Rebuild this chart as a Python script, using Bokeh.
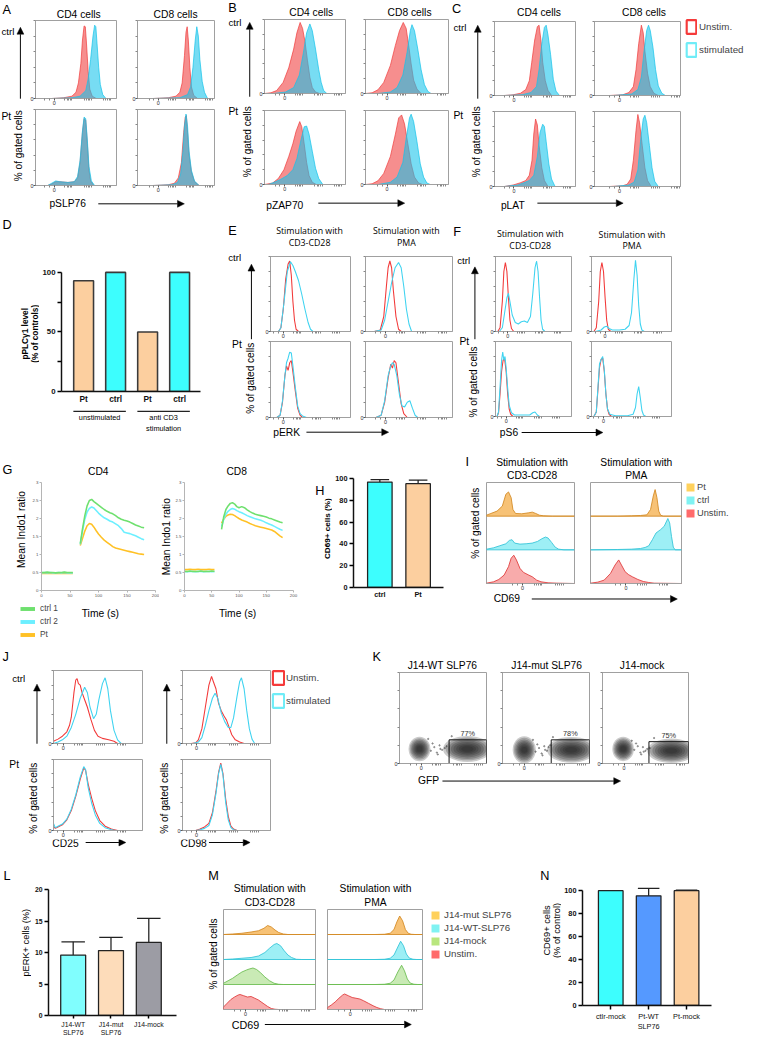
from bokeh.plotting import figure
from bokeh.layouts import row, column
from bokeh.models import (Range1d, Label, Arrow, NormalHead, FixedTicker, Legend, LegendItem,
                          Whisker, TeeHead, ColumnDataSource, Spacer)
from bokeh.embed import file_html
from bokeh.resources import INLINE
from bokeh.core.properties import value

# ============================ DATA ============================
# Flow histograms: (channel position in % of axis, % of max)
A_CD4_ctrl_unstim = [(20,0),(35,1),(45,3),(50,8),(53,20),(56,45),(58,75),(60,93),(61.5,92),(63,70),(65,35),(67,12),(70,3),(75,0)]
A_CD4_ctrl_stim = [(20,0),(45,1),(55,3),(62,10),(65,25),(68,50),(71,80),(73,94),(74.5,92),(76,70),(78,40),(80,18),(83,5),(87,0)]
A_CD8_ctrl_unstim = [(20,0),(40,1),(50,3),(55,8),(58,20),(61,55),(63,85),(64.5,92),(66,75),(68,40),(70,15),(73,4),(78,0)]
A_CD8_ctrl_stim = [(20,0),(55,1),(65,5),(69,15),(72,40),(75,75),(77,92),(79,80),(81,50),(84,22),(87,8),(91,0)]
A_CD4_Pt_unstim = [(15,0),(20,2),(25,5),(30,5),(40,4),(48,5),(52,10),(55,30),(58,70),(60,88),(62,86),(64,55),(66,20),(68,6),(72,0)]
A_CD4_Pt_stim = [(15,0),(20,3),(25,6),(30,5),(40,4),(48,5),(52,12),(55,33),(58,72),(60,90),(62,88),(64,60),(66,25),(69,6),(73,0)]
A_CD8_Pt_unstim = [(20,0),(40,1),(48,3),(53,10),(57,30),(60,70),(62,90),(63.5,92),(65,70),(67,40),(70,18),(74,5),(80,0)]
A_CD8_Pt_stim = [(20,0),(45,1),(52,4),(56,15),(59,45),(61,78),(63,94),(65,78),(67,45),(70,20),(74,6),(80,0)]

B_CD4_ctrl_unstim = [(0,0),(8,1),(15,4),(23,15),(30,35),(36,60),(40,82),(44,96),(47,88),(50,70),(53,45),(56,22),(59,8),(63,2),(68,0)]
B_CD4_ctrl_stim = [(11,0),(26,2),(36,8),(43,25),(48,55),(52,82),(56,94),(59,85),(63,60),(67,32),(70,15),(73,4),(77,0)]
B_CD8_ctrl_unstim = [(0,0),(8,1),(15,5),(22,15),(30,38),(36,65),(41,85),(45.5,96),(49,88),(52,65),(55,40),(58,18),(62,6),(67,0)]
B_CD8_ctrl_stim = [(15,0),(30,2),(38,8),(45,25),(50,55),(54,85),(56,93),(59,85),(63,60),(67,32),(71,12),(75,3),(79,0)]
B_CD4_Pt_unstim = [(0,0),(10,2),(17,8),(24,20),(30,38),(35,55),(39,72),(43.5,85),(46,78),(49,55),(52,30),(55,12),(59,3),(64,0)]
B_CD4_Pt_stim = [(5,0),(12,3),(20,7),(28,12),(35,20),(40,35),(45,60),(49,78),(52,79),(55,68),(59,45),(63,22),(67,8),(72,0)]
B_CD8_Pt_unstim = [(0,0),(8,1),(15,5),(22,15),(30,38),(36,68),(40,90),(43.5,94),(47,82),(51,55),(55,28),(59,10),(64,2),(69,0)]
B_CD8_Pt_stim = [(15,0),(30,3),(38,10),(45,30),(49,62),(53,90),(55,95),(58,85),(62,58),(66,28),(70,10),(74,2),(78,0)]

C_CD4_ctrl_unstim = [(12,0),(23,1),(32,3),(38.6,8),(43,20),(46,45),(49.6,75),(52.9,93),(55,95),(57.3,75),(59.5,45),(62.7,20),(66,7),(70.4,0)]
C_CD4_ctrl_stim = [(12,0),(34,1),(45,4),(51.8,12),(55,35),(58.4,70),(61.6,92),(63.8,95),(66,82),(69.3,55),(72.6,22),(75.9,6),(80.3,0)]
C_CD8_ctrl_unstim = [(17.3,0),(32.8,1),(40,4),(45.2,12),(48.3,35),(51.4,70),(54.5,95),(56.6,85),(58.6,60),(61.7,30),(64.8,12),(69,3),(74.2,0)]
C_CD8_ctrl_stim = [(22.5,0),(43.1,2),(50.4,8),(54.5,25),(57.6,60),(60.7,88),(62.8,95),(64.8,88),(68,65),(71,35),(74.2,13),(78.3,3),(82.4,0)]
C_CD4_Pt_unstim = [(12,0),(23,2),(32,5),(38.6,8),(43,15),(46.3,35),(48.5,70),(50.7,90),(52.9,82),(55,55),(58.4,25),(61.6,8),(66,0)]
C_CD4_Pt_stim = [(12,0),(28.8,2),(36.4,5),(43,8),(48.5,15),(52.9,40),(56.2,72),(59.5,83),(61.6,80),(63.8,60),(67.1,30),(70.4,10),(74.8,0)]
C_CD8_Pt_unstim = [(17.3,0),(32.8,1),(38,3),(42.1,10),(45.2,35),(48.3,75),(50.4,96),(52.4,85),(55.5,55),(58.6,25),(61.7,8),(65.9,0)]
C_CD8_Pt_stim = [(22.5,0),(40,2),(46.2,6),(50.4,22),(53.5,60),(56.6,90),(58.6,95),(60.7,85),(63.8,55),(66.9,25),(70,7),(74.2,0)]

E_CD3_ctrl_unstim = [(10,0),(13,5),(16,30),(19,70),(22,90),(24,94),(26,75),(28,40),(30,15),(32,3),(35,0)]
E_CD3_ctrl_stim = [(10,0),(13,5),(17,40),(21,80),(25,93),(28,88),(31,80),(35,68),(39,50),(43,30),(47,12),(50,3),(53,0)]
E_PMA_ctrl_unstim = [(10,0),(17,2),(21,20),(24,60),(26,85),(28,94),(30,85),(32,55),(35,20),(38,3),(41,0)]
E_PMA_ctrl_stim = [(10,0),(18,2),(22,15),(26,40),(30,65),(34,85),(38,92),(41,85),(44,60),(47,30),(50,10),(53,0)]
E_CD3_Pt_unstim = [(8,0),(12,3),(15,20),(18,55),(20,68),(22,62),(24,72),(26,75),(28,60),(31,35),(34,12),(37,3),(40,0)]
E_CD3_Pt_stim = [(8,0),(12,3),(15,22),(18,55),(20,72),(22,78),(24,86),(26,85),(28,68),(31,40),(34,15),(37,5),(40,2),(45,0)]
E_PMA_Pt_unstim = [(12,0),(18,3),(22,20),(26,52),(29,70),(31,65),(33,75),(35,72),(38,45),(41,18),(44,5),(48,0)]
E_PMA_Pt_stim = [(12,0),(18,3),(22,22),(26,55),(29,68),(31,72),(33,70),(36,55),(39,30),(42,15),(45,14),(48,20),(51,22),(54,12),(57,3),(60,0)]

F_CD3_ctrl_unstim = [(3,0),(6,5),(9,40),(11,80),(13,92),(15,80),(17,45),(19,15),(21,4),(24,0)]
F_CD3_ctrl_stim = [(5,0),(9,5),(12,25),(15,45),(17,51),(19,40),(22,22),(26,12),(30,10),(34,13),(38,14),(42,12),(46,20),(49,50),(52,85),(54,94),(56,80),(58,45),(60,15),(62,3),(65,0)]
F_PMA_ctrl_unstim = [(3,0),(6,5),(9,40),(11,80),(13,92),(15,80),(17,45),(19,15),(21,3),(24,0)]
F_PMA_ctrl_stim = [(5,0),(12,2),(16,6),(19,7),(22,4),(26,2),(35,2),(42,3),(47,8),(50,25),(53,70),(55,95),(57,75),(59,35),(61,10),(63,2),(66,0)]
F_CD3_Pt_unstim = [(2,0),(4,5),(6,30),(8,60),(10,75),(12,77),(14,60),(16,30),(18,10),(20,3),(23,0)]
F_CD3_Pt_stim = [(2,0),(4,6),(6,40),(8,75),(9.5,86),(11,75),(12.5,80),(14,65),(16,38),(18,15),(21,5),(25,2),(35,2),(45,2),(49,5),(52,6),(55,2),(58,0)]
F_PMA_Pt_unstim = [(3,0),(6,6),(8,35),(10,65),(12,76),(14,78),(16,60),(18,30),(20,10),(22,3),(25,0)]
F_PMA_Pt_stim = [(3,0),(6,6),(8,38),(10,70),(12,76),(14,80),(16,62),(18,30),(20,10),(23,3),(30,1),(45,1),(52,3),(55,12),(57,30),(59,40),(61,25),(63,8),(65,2),(68,0)]

G_time_base = [0, 5, 10, 15, 20, 25, 30, 35, 40, 45, 50, 55]
G_time_resp = [68, 72, 76, 80, 84, 88, 92, 96, 100, 105, 110, 115, 120, 125, 130, 135, 140, 145, 150, 155, 160, 165, 170, 175, 180]
G_CD4_ctrl1_base = [0.50, 0.50, 0.51, 0.50, 0.50, 0.49, 0.50, 0.50, 0.51, 0.50, 0.50, 0.50]
G_CD4_ctrl1_resp = [1.30, 1.72, 2.08, 2.35, 2.50, 2.53, 2.47, 2.42, 2.37, 2.31, 2.25, 2.20, 2.16, 2.13, 2.08, 2.02, 1.98, 1.95, 1.93, 1.90, 1.86, 1.82, 1.79, 1.76, 1.74]
G_CD4_ctrl2_base = [0.49, 0.50, 0.49, 0.50, 0.49, 0.49, 0.50, 0.49, 0.50, 0.49, 0.49, 0.49]
G_CD4_ctrl2_resp = [1.28, 1.65, 1.98, 2.18, 2.28, 2.32, 2.29, 2.22, 2.15, 2.08, 2.02, 1.98, 1.93, 1.90, 1.85, 1.80, 1.72, 1.62, 1.60, 1.58, 1.55, 1.52, 1.48, 1.44, 1.41]
G_CD4_Pt_base = [0.47, 0.48, 0.47, 0.48, 0.47, 0.47, 0.48, 0.47, 0.47, 0.48, 0.47, 0.47]
G_CD4_Pt_resp = [1.25, 1.45, 1.65, 1.80, 1.86, 1.84, 1.76, 1.66, 1.57, 1.48, 1.40, 1.34, 1.28, 1.22, 1.18, 1.16, 1.14, 1.12, 1.10, 1.08, 1.06, 1.04, 1.02, 1.01, 1.00]
G_CD8_ctrl1_base = [0.53, 0.53, 0.54, 0.53, 0.53, 0.53, 0.54, 0.53, 0.53, 0.53, 0.54, 0.53]
G_CD8_ctrl1_resp = [1.70, 2.05, 2.25, 2.35, 2.42, 2.44, 2.40, 2.33, 2.30, 2.33, 2.30, 2.24, 2.19, 2.15, 2.12, 2.10, 2.08, 2.06, 2.04, 2.01, 1.99, 1.96, 1.93, 1.90, 1.88]
G_CD8_ctrl2_base = [0.53, 0.52, 0.53, 0.53, 0.52, 0.53, 0.53, 0.52, 0.53, 0.53, 0.52, 0.53]
G_CD8_ctrl2_resp = [1.78, 1.98, 2.12, 2.20, 2.25, 2.28, 2.26, 2.22, 2.19, 2.16, 2.12, 2.08, 2.05, 2.02, 1.99, 1.97, 1.95, 1.92, 1.88, 1.85, 1.82, 1.78, 1.74, 1.70, 1.67]
G_CD8_Pt_base = [0.58, 0.58, 0.59, 0.58, 0.58, 0.59, 0.58, 0.58, 0.58, 0.59, 0.58, 0.58]
G_CD8_Pt_resp = [1.87, 1.98, 2.06, 2.10, 2.12, 2.11, 2.08, 2.04, 2.00, 1.96, 1.93, 1.90, 1.86, 1.83, 1.80, 1.78, 1.76, 1.74, 1.72, 1.70, 1.68, 1.64, 1.58, 1.52, 1.47]
G_series = ["ctrl 1", "ctrl 2", "Pt"]

D_labels = ["Pt", "ctrl", "Pt", "ctrl"]
D_values = [93, 100, 50, 100]
D_groups = ["unstimulated", "anti CD3\nstimulation"]

H_labels = ["ctrl", "Pt"]
H_values = [96.7, 95.2]
H_low = [94.5, 92.0]
H_high = [99.0, 98.5]

I_CD3_Pt = [(0,3),(5,8),(12,15),(18,30),(22,65),(25,72),(28,55),(30,20),(33,8),(40,7),(48,10),(52,12),(56,8),(60,3),(65,1),(75,0),(100,0)]
I_CD3_ctrl = [(0,2),(8,6),(15,12),(22,18),(26,28),(29,30),(32,20),(38,17),(45,18),(52,20),(58,25),(63,33),(67,38),(70,35),(74,22),(78,8),(82,2),(88,0),(100,0)]
I_CD3_unstim = [(0,1),(8,5),(14,12),(20,25),(25,50),(28,75),(31,84),(34,70),(38,45),(42,33),(48,25),(52,20),(57,10),(62,5),(70,2),(80,1),(100,0)]
I_PMA_Pt = [(0,0),(30,0),(45,1),(55,2),(62,4),(66,20),(69,60),(71,79),(73,55),(75,15),(77,3),(80,0),(100,0)]
I_PMA_ctrl = [(0,0),(30,1),(45,2),(55,4),(60,7),(64,12),(68,30),(72,50),(77,60),(81,70),(85,93),(87,80),(89,40),(91,8),(93,0),(100,0)]
I_PMA_unstim = [(0,1),(8,4),(15,10),(22,30),(27,55),(31,70),(34,55),(38,35),(42,26),(46,20),(52,12),(58,6),(64,3),(70,1),(100,0)]
I_legend = ["Pt", "ctrl", "Unstim."]

J_CD25_ctrl_unstim = [(0,3),(5,6),(10,10),(15,16),(18,25),(20,36),(23,70),(25,87),(26.5,89),(28,82),(30,80),(32,70),(35,60),(38,50),(42,33),(46,18),(50,10),(55,7),(62,5),(68,3),(72,0)]
J_CD25_ctrl_stim = [(0,0),(5,2),(10,5),(15,10),(20,22),(25,40),(30,62),(35,77),(38,70),(41,50),(45,34),(48,40),(51,60),(55,82),(58,90),(61,75),(64,45),(68,18),(72,5),(76,0)]
J_CD98_ctrl_unstim = [(10,0),(15,1),(18,5),(22,20),(26,50),(30,80),(33,92),(35,85),(38,75),(41,55),(44,45),(47,38),(50,32),(53,22),(56,12),(60,5),(65,2),(70,0)]
J_CD98_ctrl_stim = [(12,0),(18,2),(22,8),(26,25),(30,45),(34,62),(37,69),(40,62),(44,42),(48,30),(52,22),(55,22),(58,35),(62,65),(65,85),(67,90),(70,75),(73,45),(76,20),(79,6),(82,0)]
J_CD25_Pt_unstim = [(0,6),(2,3),(5,5),(10,8),(15,15),(20,28),(25,48),(30,72),(34,88),(36,85),(39,65),(43,45),(47,28),(52,14),(58,6),(65,2),(72,0)]
J_CD25_Pt_stim = [(0,10),(2,4),(5,6),(10,9),(15,16),(20,30),(25,50),(30,75),(34,90),(36,86),(39,60),(43,38),(47,22),(52,10),(58,4),(65,1),(70,0)]
J_CD98_Pt_unstim = [(15,0),(20,2),(25,5),(30,10),(34,25),(38,55),(41,82),(43.5,95),(46,80),(49,45),(52,20),(55,6),(58,2),(62,0)]
J_CD98_Pt_stim = [(15,0),(20,1),(25,3),(30,7),(34,22),(38,52),(41,80),(43.5,93),(46,78),(49,40),(52,15),(55,4),(58,1),(62,0)]

K_titles = ["J14-WT SLP76", "J14-mut SLP76", "J14-mock"]
K_gate_pct = ["77%", "78%", "75%"]
K_gate_x = [57, 56, 54]
K_gate_y = [26, 26, 24]
K_neg_x = [23, 25, 24]
K_neg_y = [16, 15, 16]
K_neg_w = [18, 19, 18]
K_neg_h = [18, 20, 18]
K_pos_x = [78, 79, 80]
K_pos_y = [16, 15, 14]
K_pos_w = [40, 40, 40]
K_pos_h = [19, 19, 18]
K_events_x = [[36, 40, 43, 46, 49, 52, 38, 44, 54, 47, 33, 60],
              [38, 42, 45, 48, 51, 53, 40, 46, 55, 49, 35, 58],
              [37, 41, 44, 47, 50, 52, 39, 45, 55, 48, 34, 60]]
K_events_y = [[14, 18, 12, 20, 15, 17, 22, 10, 19, 16, 27, 30],
              [13, 17, 11, 19, 14, 18, 21, 9, 20, 15, 26, 29],
              [15, 19, 12, 18, 14, 16, 22, 10, 17, 13, 25, 28]]

L_labels = ["J14-WT\nSLP76", "J14-mut\nSLP76", "J14-mock"]
L_values = [9.6, 10.3, 11.6]
L_low = [7.6, 8.2, 7.8]
L_high = [11.7, 12.4, 15.4]

M_CD3_mut = [(0,0),(10,2),(20,5),(30,10),(38,15),(44,25),(48,36),(52,30),(56,18),(60,8),(65,2),(70,0),(100,0)]
M_CD3_WT = [(0,0),(10,2),(20,5),(30,8),(38,14),(45,28),(50,45),(55,60),(58,64),(62,55),(66,35),(70,18),(74,8),(79,1),(85,0),(100,0)]
M_CD3_mock = [(0,5),(5,15),(10,25),(15,38),(20,50),(25,58),(28,62),(32,66),(36,60),(40,48),(45,30),(50,15),(55,5),(60,1),(65,0),(100,0)]
M_CD3_unstim = [(0,10),(4,25),(8,40),(12,50),(16,58),(18,60),(22,55),(26,50),(30,52),(34,45),(38,38),(43,25),(48,12),(52,4),(56,1),(60,0),(100,0)]
M_PMA_mut = [(0,0),(50,0),(60,1),(66,5),(70,20),(73,50),(76,74),(79,55),(82,20),(85,5),(88,1),(92,0),(100,0)]
M_PMA_WT = [(0,0),(50,0),(60,1),(66,5),(70,18),(74,50),(77,73),(80,55),(83,22),(86,6),(90,1),(94,0),(100,0)]
M_PMA_mock = [(0,0),(50,0),(60,1),(66,5),(70,18),(74,50),(78,77),(81,55),(84,22),(87,6),(91,1),(95,0),(100,0)]
M_PMA_unstim = [(0,8),(4,18),(8,30),(12,45),(16,58),(18,62),(22,55),(26,48),(30,45),(34,42),(38,35),(43,25),(48,15),(52,8),(56,3),(60,0),(100,0)]
M_legend = ["J14-mut SLP76", "J14-WT-SLP76", "J14-mock", "Unstim."]

N_labels = ["ctlr-mock", "Pt-WT\nSLP76", "Pt-mock"]
N_values = [100, 95.5, 100]
N_low = [100, 89.0, 99.6]
N_high = [100, 102.0, 100.4]

# ============================ STYLE / HELPERS ============================
K = 0.978
ARIAL = "Liberation Sans"
OPEN = "Open Sans"
RED_F, CYAN_F = "#F03C3C", "#14C3EA"
RED_L, CYAN_L = "#F23A3A", "#3FD3F0"
NAN = float("nan")


def S(v):
    return int(round(v * K))


def fs(px):
    return f"{px * K:.2f}px"


def sp(x0, x1, y0, y1):
    return Spacer(width=max(S(x1) - S(x0), 0), height=max(S(y1) - S(y0), 0))


def strip(x0, y0, x1, y1, xr=None, fl=None, fr=None):
    return figure(width=S(x1) - S(x0), height=S(y1) - S(y0),
                  x_range=xr if xr is not None else Range1d(x0, x1), y_range=Range1d(y1, y0),
                  x_axis_type=None, y_axis_type=None, toolbar_location=None, output_backend="svg",
                  title=None, outline_line_color=None,
                  min_border_left=(S(fl) - S(x0)) if fl is not None else 0,
                  min_border_right=(S(x1) - S(fr)) if fr is not None else 0,
                  min_border_top=0, min_border_bottom=0)


def txt(p, x, y, s, size, align="left", font=ARIAL, bold=False, angle=0, baseline="middle", color="black"):
    p.add_layout(Label(x=x, y=y, text=s, text_font=font, text_font_size=fs(size), text_align=align,
                       text_baseline=baseline, text_font_style="bold" if bold else "normal",
                       angle=angle, angle_units="deg", text_color=color))


def arr(p, x0, y0, x1, y1, lw=1.0, size=7):
    p.add_layout(Arrow(x_start=x0, y_start=y0, x_end=x1, y_end=y1, line_width=lw * K, line_color="black",
                       end=NormalHead(size=size * K, fill_color="black", line_color="black", line_width=0.5)))


def pfig(rect, frame, xr, yr, outline="#a0a0a0"):
    x0, y0, x1, y1 = rect
    fx0, fy0, fx1, fy1 = frame
    p = figure(width=S(x1) - S(x0), height=S(y1) - S(y0), x_range=xr, y_range=yr, toolbar_location=None,
               output_backend="svg", title=None, outline_line_color=outline,
               min_border_left=S(fx0) - S(x0), min_border_right=S(x1) - S(fx1),
               min_border_top=S(fy0) - S(y0), min_border_bottom=S(y1) - S(fy1))
    p.grid.visible = False
    return p


def flow_common(ax):
    ax.axis_line_color = "#a0a0a0"
    ax.major_tick_line_color = "#555555"
    ax.minor_tick_line_color = "#888888"
    ax.major_tick_out = 2
    ax.major_tick_in = 0
    ax.minor_tick_out = 2
    ax.minor_tick_in = 0
    ax.major_label_text_font = ARIAL
    ax.major_label_text_font_size = fs(5.5)
    ax.major_label_standoff = 0
    ax.major_label_text_color = "#333333"


def flow_xaxis(ax, zero):
    minors = [zero - 12, zero - 6]
    for d in (zero + 22, zero + 46, zero + 70):
        minors += [d - 9, d - 6, d - 4, d - 2, d]
    ax.ticker = FixedTicker(ticks=[zero], minor_ticks=[m for m in minors if 0 < m < 100])
    ax.major_label_overrides = {zero: "0"}
    flow_common(ax)


def flow_yaxis(ax):
    ax.ticker = FixedTicker(ticks=[0], minor_ticks=[20, 40, 60, 80, 100])
    ax.major_label_overrides = {0: "0"}
    flow_common(ax)


def filled(p, pts, color, alpha=0.58, base=0, lc=None, lw=0.8):
    xs = [pts[0][0]] + [a for a, _ in pts] + [pts[-1][0]]
    ys = [base] + [base + b for _, b in pts] + [base]
    p.patch(xs, ys, fill_color=color, fill_alpha=alpha, line_color=lc or color, line_alpha=0.9, line_width=lw * K)


def lined(p, pts, color, lw=1.1):
    p.line([a for a, _ in pts], [b for _, b in pts], line_color=color, line_width=lw * K)


def flow_panel(rect, frame, zero, curves, kind="fill"):
    p = pfig(rect, frame, Range1d(0, 100), Range1d(0, 100))
    flow_xaxis(p.xaxis[0], zero)
    flow_yaxis(p.yaxis[0])
    for pts, col in curves:
        if kind == "fill":
            filled(p, pts, col)
        else:
            lined(p, pts, col)
    return p


def stacked_panel(rect, frame, zero, layers):
    p = pfig(rect, frame, Range1d(0, 100), Range1d(0, 100 * len(layers)))
    flow_xaxis(p.xaxis[0], zero)
    p.yaxis.visible = False
    for k, (pts, fc, lc) in enumerate(layers):
        filled(p, pts, fc, alpha=0.85, base=100 * k, lc=lc, lw=1.0)
    return p


def legend_strip(rect, labels, colors, kind, gw, gh, spacing, lsize, standoff, pad):
    p = strip(*rect)
    items = []
    for lab, col in zip(labels, colors):
        # one undrawable (NaN) row: only the legend swatch is shown
        src = ColumnDataSource(dict(x=[NAN], y=[NAN]))
        if kind == "box":
            r = p.rect(x="x", y="y", width=1, height=1, source=src, fill_color=None, line_color=col,
                       line_width=2.2 * K)
        elif kind == "fill":
            r = p.rect(x="x", y="y", width=1, height=1, source=src, fill_color=col, line_color=None)
        else:
            r = p.line(x="x", y="y", source=src, line_color=col, line_width=4 * K)
        items.append(LegendItem(label=lab, renderers=[r], index=0))
    leg = Legend(items=items, location="top_left", orientation="vertical", margin=0,
                 padding=max(int(round(pad * K)), 0), spacing=int(round(spacing * K)),
                 glyph_width=int(round(gw * K)), glyph_height=int(round(gh * K)),
                 label_height=int(round(gh * K)), label_width=10, label_standoff=int(round(standoff * K)),
                 label_text_font=ARIAL, label_text_font_size=fs(lsize), label_text_baseline="middle",
                 border_line_color=None, background_fill_alpha=0)
    p.add_layout(leg)
    return p


def bar_axes(p, yt, ymin, yb, xt, xl, ys=7.5, xs=7.5, xbold=True, xtick=3, lw=1.5):
    ya = p.yaxis[0]
    ya.ticker = FixedTicker(ticks=yt, minor_ticks=ymin)
    ya.bounds = yb
    xa = p.xaxis[0]
    xa.ticker = FixedTicker(ticks=xt)
    xa.major_label_overrides = {t: l for t, l in zip(xt, xl)}
    for ax in (ya, xa):
        ax.axis_line_width = lw * K
        ax.axis_line_color = "#111111"
        ax.major_tick_line_width = lw * K
        ax.minor_tick_line_width = lw * K
        ax.major_tick_in = 0
        ax.minor_tick_in = 0
        ax.major_label_text_font = ARIAL
        ax.major_label_text_color = "#111111"
    ya.major_tick_out = 4
    ya.minor_tick_out = 4
    ya.major_label_standoff = 2
    ya.major_label_text_font_style = "bold"
    ya.major_label_text_font_size = fs(ys)
    xa.major_tick_out = xtick
    if xtick == 0:
        xa.major_tick_line_color = None
    xa.major_label_standoff = 2
    xa.major_label_text_font_style = "bold" if xbold else "normal"
    xa.major_label_text_font_size = fs(xs)


def add_whisker(p, xs, lo, hi, head):
    src = ColumnDataSource(dict(base=xs, lower=lo, upper=hi))
    p.add_layout(Whisker(source=src, base="base", lower="lower", upper="upper", dimension="height",
                         line_width=1.3 * K, line_color="#222222",
                         upper_head=TeeHead(size=head * K, line_width=1.3 * K, line_color="#222222"),
                         lower_head=TeeHead(size=head * K, line_width=1.3 * K, line_color="#222222")))


# ============================ BAND 1: A B C ============================
T1 = strip(0, 0, 770, 18)
txt(T1, 2, 8.5, "A", 13)
txt(T1, 80, 13.5, "CD4 cells", 10.5, align="center")
txt(T1, 179, 13.5, "CD8 cells", 10.5, align="center")
txt(T1, 233, 7, "B", 13)
txt(T1, 317.7, 11.7, "CD4 cells", 10.5, align="center")
txt(T1, 418.3, 11.7, "CD8 cells", 10.5, align="center")
txt(T1, 461.7, 7.5, "C", 13)
txt(T1, 550.7, 12, "CD4 cells", 10.5, align="center")
txt(T1, 658, 12, "CD8 cells", 10.5, align="center")


def side_labels(p, xc, yc, xa, ya0, ya1, xr, yr_ctrl, yr_pt, xpt=None):
    txt(p, xr, yr_ctrl, "ctrl", 10)
    txt(p, xpt if xpt is not None else xr, yr_pt, "Pt", 10.5)
    arr(p, xa, ya0, xa, ya1)
    txt(p, xc, yc, "% of gated cells", 10.3, align="center", angle=90)


A_left = strip(0, 18, 26, 200)
side_labels(A_left, 19, 148, 20.7, 100, 27, 1, 31, 118)
B_left = strip(230, 18, 262, 200)
side_labels(B_left, 253, 144, 255, 98, 22, 233, 22, 113)
C_left = strip(462, 18, 497, 200)
side_labels(C_left, 486.7, 144, 488, 100, 25, 463, 27, 117)

A_UL = flow_panel((26, 18, 130, 110), (36, 20, 119, 100), 23, [(A_CD4_ctrl_unstim, RED_F), (A_CD4_ctrl_stim, CYAN_F)])
A_LL = flow_panel((26, 110, 130, 200), (36, 111, 119, 189), 23, [(A_CD4_Pt_unstim, RED_F), (A_CD4_Pt_stim, CYAN_F)])
A_UR = flow_panel((130, 18, 230, 110), (140, 20, 219, 100), 27, [(A_CD8_ctrl_unstim, RED_F), (A_CD8_ctrl_stim, CYAN_F)])
A_LR = flow_panel((130, 110, 230, 200), (140, 111, 219, 189), 27, [(A_CD8_Pt_unstim, RED_F), (A_CD8_Pt_stim, CYAN_F)])
B_UL = flow_panel((262, 18, 364, 107), (268, 19, 353, 95), 25, [(B_CD4_ctrl_unstim, RED_F), (B_CD4_ctrl_stim, CYAN_F)])
B_LL = flow_panel((262, 107, 364, 200), (268, 112, 353, 188), 25, [(B_CD4_Pt_unstim, RED_F), (B_CD4_Pt_stim, CYAN_F)])
B_UR = flow_panel((364, 18, 462, 107), (373, 19, 458, 95), 26, [(B_CD8_ctrl_unstim, RED_F), (B_CD8_ctrl_stim, CYAN_F)])
B_LR = flow_panel((364, 107, 462, 200), (373, 112, 458, 188), 26, [(B_CD8_Pt_unstim, RED_F), (B_CD8_Pt_stim, CYAN_F)])
C_UL = flow_panel((497, 18, 598, 108), (505, 21, 588, 97), 24, [(C_CD4_ctrl_unstim, RED_F), (C_CD4_ctrl_stim, CYAN_F)])
C_LL = flow_panel((497, 108, 598, 200), (505, 114, 588, 190), 24, [(C_CD4_Pt_unstim, RED_F), (C_CD4_Pt_stim, CYAN_F)])
C_UR = flow_panel((598, 18, 700, 108), (607, 21, 695, 97), 29, [(C_CD8_ctrl_unstim, RED_F), (C_CD8_ctrl_stim, CYAN_F)])
C_LR = flow_panel((598, 108, 700, 200), (607, 114, 695, 190), 29, [(C_CD8_Pt_unstim, RED_F), (C_CD8_Pt_stim, CYAN_F)])
C_leg = legend_strip((700, 18, 770, 200), ["Unstim.", "stimulated"], ["#F53A3A", "#6FECF7"], "box",
                     12.5, 17.5, 6.5, 10, 2, 3)

B1 = strip(0, 200, 770, 220)
txt(B1, 50, 207.5, "pSLP76", 10.5)
arr(B1, 100, 207.7, 188, 207.7)
txt(B1, 271.7, 209, "pZAP70", 10.5)
arr(B1, 325, 207, 413.3, 207)
txt(B1, 511.7, 209, "pLAT", 10.5)
arr(B1, 549, 207, 636.7, 207)

band1 = column(T1, row(A_left, column(A_UL, A_LL), column(A_UR, A_LR), B_left, column(B_UL, B_LL),
                       column(B_UR, B_LR), C_left, column(C_UL, C_LL), column(C_UR, C_LR), C_leg), B1)

# ============================ BAND 2: D E F ============================
T2 = strip(0, 220, 770, 258)
txt(T2, 2, 229, "D", 13)
txt(T2, 233, 235.5, "E", 13)
txt(T2, 316, 236, "Stimulation with", 9, align="center", font=OPEN)
txt(T2, 316, 248.5, "CD3-CD28", 9, align="center", font=OPEN)
txt(T2, 415, 236, "Stimulation with", 9, align="center", font=OPEN)
txt(T2, 415, 248.5, "PMA", 9, align="center", font=OPEN)
txt(T2, 463, 236.5, "F", 13)
txt(T2, 541.7, 239, "Stimulation with", 9, align="center", font=OPEN)
txt(T2, 541.7, 251, "CD3-CD28", 9, align="center", font=OPEN)
txt(T2, 645.7, 240, "Stimulation with", 9, align="center", font=OPEN)
txt(T2, 645.7, 251, "PMA", 9, align="center", font=OPEN)

D_left = strip(0, 258, 40, 452)
txt(D_left, 25.5, 341, "pPLC\u03b31 level", 8.5, align="center", bold=True, angle=90)
txt(D_left, 35.5, 341, "(% of controls)", 8.5, align="center", bold=True, angle=90)

D_x = Range1d(0.309, 0.309 + (210 - 57) / 34.0)
D_idx = [i + 1 for i in range(len(D_values))]
D_fig = pfig((40, 258, 218, 418), (57, 276, 210, 400), D_x, Range1d(0, 101.6), outline=None)
D_fig.vbar(x=D_idx, top=D_values, width=0.62,
           fill_color=["#FCCF9F" if l == "Pt" else "#3DFEFE" for l in D_labels],
           line_color="#3a3a3a", line_width=1.6 * K)
bar_axes(D_fig, [0, 50, 100], [25, 75], (0, 100), D_idx, D_labels, ys=8, xs=8.5, xtick=0)
D_fig.xaxis[0].bounds = (0.309, 4.66)

D_under = strip(40, 418, 218, 452, xr=D_x, fl=57, fr=210)
g_x0 = [2 * g + 1 - 0.32 for g in range(len(D_groups))]
g_x1 = [2 * g + 2 + 0.32 for g in range(len(D_groups))]
D_under.segment(x0=g_x0, y0=[420] * 2, x1=g_x1, y1=[420] * 2, line_color="#222222", line_width=1.2 * K)
D_under.text(x=[2 * g + 1.5 for g in range(len(D_groups))], y=[421.5] * 2, text=D_groups,
             text_font=value(ARIAL), text_font_size=value(fs(7.5)), text_align="center",
             text_baseline="top", text_line_height=1.25)

E_left = strip(218, 258, 268, 436)
side_labels(E_left, 256, 386.7, 256.7, 346.7, 270, 233, 263.3, 351.7, xpt=237)
F_left = strip(466, 258, 498, 436)
side_labels(F_left, 484, 390.5, 485, 346.7, 272.7, 466.7, 266, 349.3, xpt=469)

E_UL = flow_panel((268, 258, 365, 348), (276, 262, 358, 339), 16, [(E_CD3_ctrl_unstim, RED_L), (E_CD3_ctrl_stim, CYAN_L)], "line")
E_LL = flow_panel((268, 348, 365, 436), (276, 349, 358, 426), 16, [(E_CD3_Pt_unstim, RED_L), (E_CD3_Pt_stim, CYAN_L)], "line")
E_UR = flow_panel((365, 258, 466, 348), (371, 262, 462, 339), 23, [(E_PMA_ctrl_unstim, RED_L), (E_PMA_ctrl_stim, CYAN_L)], "line")
E_LR = flow_panel((365, 348, 466, 436), (371, 349, 462, 426), 23, [(E_PMA_Pt_unstim, RED_L), (E_PMA_Pt_stim, CYAN_L)], "line")
F_UL = flow_panel((498, 258, 596, 348), (503, 262, 584, 339), 16, [(F_CD3_ctrl_unstim, RED_L), (F_CD3_ctrl_stim, CYAN_L)], "line")
F_LL = flow_panel((498, 348, 596, 436), (503, 349, 584, 425), 14, [(F_CD3_Pt_unstim, RED_L), (F_CD3_Pt_stim, CYAN_L)], "line")
F_UR = flow_panel((596, 258, 700, 348), (604, 262, 686, 339), 17, [(F_PMA_ctrl_unstim, RED_L), (F_PMA_ctrl_stim, CYAN_L)], "line")
F_LR = flow_panel((596, 348, 700, 436), (604, 349, 686, 425), 15, [(F_PMA_Pt_unstim, RED_L), (F_PMA_Pt_stim, CYAN_L)], "line")

EF_bot = strip(218, 436, 770, 452)
txt(EF_bot, 279, 442, "pERK", 10.5)
arr(EF_bot, 313, 441.7, 397, 441.7)
txt(EF_bot, 510.7, 442.3, "pS6", 10.5)
arr(EF_bot, 533, 442, 616, 442)

rowEF = row(E_left, column(E_UL, E_LL), column(E_UR, E_LR), F_left, column(F_UL, F_LL),
            column(F_UR, F_LR), sp(700, 770, 258, 436))
band2 = column(T2, row(D_left, column(D_fig, D_under), column(rowEF, EF_bot)))

# ============================ BAND 3: G H I ============================
G_top = strip(0, 452, 320, 488)
txt(G_top, 2, 480, "G", 13)
txt(G_top, 100, 482.3, "CD4", 10.5, align="center")
txt(G_top, 241.5, 482, "CD8", 10.5, align="center")

G4L = strip(0, 488, 30, 615)
txt(G4L, 21.5, 543.3, "Mean Indo1 ratio", 10.5, align="center", angle=90)
G8L = strip(163, 488, 176, 615)
txt(G8L, 170, 551.7, "Mean Indo1 ratio", 10.5, align="center", angle=90)

G_colors = ["#6EE06E", "#6CEFFF", "#FFC125"]


def g_panel(rect, frame, series):
    # series: list of (base, resp) in the order of G_series; drawn Pt first, ctrl 1 last
    p = pfig(rect, frame, Range1d(0, 200), Range1d(0, 3), outline=None)
    p.xaxis[0].ticker = FixedTicker(ticks=[0, 50, 100, 150, 200])
    p.yaxis[0].ticker = FixedTicker(ticks=[0, 0.5, 1, 1.5, 2, 2.5, 3])
    p.yaxis[0].major_label_overrides = {0: "0", 0.5: "0.5", 1: "1", 1.5: "1.5", 2: "2", 2.5: "2.5", 3: "3"}
    for ax in (p.xaxis[0], p.yaxis[0]):
        ax.axis_line_color = "#b5b5b5"
        ax.major_tick_line_color = "#b5b5b5"
        ax.minor_tick_line_color = None
        ax.major_tick_out = 2
        ax.major_tick_in = 0
        ax.major_label_text_font = ARIAL
        ax.major_label_text_font_size = fs(4.5)
        ax.major_label_standoff = 1
        ax.major_label_text_color = "#555555"
    for k in (2, 1, 0):
        base, resp = series[k]
        p.line(G_time_base, base, line_color=G_colors[k], line_width=1.6 * K)
        p.line(G_time_resp, resp, line_color=G_colors[k], line_width=1.6 * K)
    return p


G4 = g_panel((30, 488, 163, 615), (41, 493, 158, 603),
             [(G_CD4_ctrl1_base, G_CD4_ctrl1_resp), (G_CD4_ctrl2_base, G_CD4_ctrl2_resp), (G_CD4_Pt_base, G_CD4_Pt_resp)])
G8 = g_panel((176, 488, 320, 615), (182, 493, 300, 603),
             [(G_CD8_ctrl1_base, G_CD8_ctrl1_resp), (G_CD8_ctrl2_base, G_CD8_ctrl2_resp), (G_CD8_Pt_base, G_CD8_Pt_resp)])

G_leg = legend_strip((20, 617, 70, 662), G_series, G_colors, "line", 15, 9, 3.5, 8.5, 5, 2)
G_time = strip(70, 615, 320, 662)
txt(G_time, 102.5, 627.3, "Time (s)", 10.5, align="center")
txt(G_time, 242.5, 627.3, "Time (s)", 10.5, align="center")
G_bot = row(sp(0, 20, 615, 662), column(sp(20, 70, 615, 617), G_leg), G_time)
colG = column(G_top, row(G4L, G4, G8L, G8), G_bot)

H_left = strip(320, 452, 339, 662)
txt(H_left, 321.7, 480, "H", 13)
txt(H_left, 334, 551.7, "CD69+ cells (%)", 8.3, align="center", bold=True, angle=90)
H_idx = [i + 1 for i in range(len(H_values))]
H_fig = pfig((339, 452, 470, 662), (357, 486, 453, 600), Range1d(0.312, 2.663), Range1d(0, 102.7), outline=None)
H_fig.vbar(x=H_idx, top=H_values, width=0.64, fill_color=["#3DFEFE", "#FCCF9F"], line_color="#222222",
           line_width=1.3 * K)
add_whisker(H_fig, H_idx, H_low, H_high, 19)
bar_axes(H_fig, [0, 20, 40, 60, 80, 100], [], (0, 100), H_idx, H_labels, ys=7.5, xs=7.5, xtick=0)

I_top = strip(470, 452, 770, 491)
txt(I_top, 475, 471.7, "I", 13)
txt(I_top, 543.3, 472.5, "Stimulation with", 10.5, align="center")
txt(I_top, 543.3, 485.5, "CD3-CD28", 10.5, align="center")
txt(I_top, 650, 472.5, "Stimulation with", 10.5, align="center")
txt(I_top, 650, 485.5, "PMA", 10.5, align="center")
I_left = strip(470, 491, 495, 606)
txt(I_left, 486, 537.5, "% of gated cells", 10.3, align="center", angle=90)

OR_F, OR_L = "#F6B75E", "#D48B25"
CY_F, CY_L = "#8CECF3", "#36C5D8"
RD_F, RD_L = "#F79C9C", "#E03C3C"
GR_F, GR_L = "#C0E6A8", "#6CBD52"

I_L = stacked_panel((495, 491, 600, 606), (497, 493, 587, 596), 41,
                    [(I_CD3_unstim, RD_F, RD_L), (I_CD3_ctrl, CY_F, CY_L), (I_CD3_Pt, OR_F, OR_L)])
I_R = stacked_panel((600, 491, 700, 606), (603, 493, 696, 596), 39,
                    [(I_PMA_unstim, RD_F, RD_L), (I_PMA_ctrl, CY_F, CY_L), (I_PMA_Pt, OR_F, OR_L)])
I_leg = legend_strip((700, 491, 770, 606), I_legend, ["#FFD15C", "#80F2F2", "#FF6B6B"], "fill",
                     10.4, 10.4, 3, 9.5, 2, 2.5)
I_bot = strip(470, 606, 770, 662)
txt(I_bot, 504, 611.7, "CD69", 10.5)
arr(I_bot, 543, 611.7, 692, 611.7)
colI = column(I_top, row(I_left, I_L, I_R, I_leg), I_bot)

band3 = row(colG, H_left, H_fig, colI)

# ============================ BAND 4: J K ============================
J_top = strip(0, 662, 375, 684)
txt(J_top, 2, 671, "J", 13)
J_left = strip(0, 684, 46, 858)
side_labels(J_left, 34, 815.8, 37.3, 760, 699, 12, 692.7, 781.7, xpt=9)
J_mid = strip(150, 684, 178, 858)
arr(J_mid, 170, 760, 170, 699)
txt(J_mid, 167.5, 815.8, "% of gated cells", 10.3, align="center", angle=90)

JUL = flow_panel((46, 684, 150, 770), (53, 685, 145, 760), 11, [(J_CD25_ctrl_unstim, RED_L), (J_CD25_ctrl_stim, CYAN_L)], "line")
JLL = flow_panel((46, 770, 150, 858), (53, 776, 145, 850), 11, [(J_CD25_Pt_unstim, RED_L), (J_CD25_Pt_stim, CYAN_L)], "line")
JUR = flow_panel((178, 684, 277, 770), (184, 685, 276, 760), 16, [(J_CD98_ctrl_unstim, RED_L), (J_CD98_ctrl_stim, CYAN_L)], "line")
JLR = flow_panel((178, 770, 277, 858), (184, 776, 276, 850), 16, [(J_CD98_Pt_unstim, RED_L), (J_CD98_Pt_stim, CYAN_L)], "line")
J_leg = legend_strip((277, 684, 375, 858), ["Unstim.", "stimulated"], ["#F53A3A", "#6FECF7"], "box",
                     14.6, 17.5, 5.8, 10, 1, 1)
J_bot = strip(0, 858, 375, 880)
txt(J_bot, 53, 862, "CD25", 10.5)
arr(J_bot, 87, 861, 128, 861)
txt(J_bot, 184, 862, "CD98", 10.5)
arr(J_bot, 213, 861, 255, 861)
colJ = column(J_top, row(J_left, column(JUL, JLL), J_mid, column(JUR, JLR), J_leg), J_bot)

K_top = strip(375, 662, 770, 686)
txt(K_top, 380, 671, "K", 13)
for cx, t in zip([451.7, 558.3, 656], K_titles):
    txt(K_top, cx, 680, t, 10.5, align="center")

# relative sizes of the translucent layers that build each density cloud (styling only)
CLOUD_LAYERS = [(1.4, 1.5), (1.25, 1.32), (1.1, 1.15), (0.95, 0.98), (0.8, 0.8), (0.65, 0.63), (0.5, 0.47), (0.35, 0.32)]


def k_panel(rect, frame, i):
    p = pfig(rect, frame, Range1d(0, 100), Range1d(0, 100))
    flow_xaxis(p.xaxis[0], 25)
    flow_yaxis(p.yaxis[0])
    p.scatter(K_events_x[i], K_events_y[i], size=1.3 * K, color="#8a8a8a")
    for cx, cy, w, h in ((K_neg_x[i], K_neg_y[i], K_neg_w[i], K_neg_h[i]),
                         (K_pos_x[i], K_pos_y[i], K_pos_w[i], K_pos_h[i])):
        for sw, sh in CLOUD_LAYERS:
            p.ellipse(x=[cx], y=[cy], width=[w * sw], height=[h * sh], fill_color="#1e1e1e",
                      fill_alpha=0.23, line_color=None)
    p.quad(left=[K_gate_x[i]], right=[100], bottom=[0], top=[K_gate_y[i]], fill_color=None,
           line_color="#111111", line_width=1.0 * K)
    p.text(x=[(K_gate_x[i] + 100) / 2.0], y=[K_gate_y[i] + 1.5], text=[K_gate_pct[i]],
           text_font=value(ARIAL), text_font_size=value(fs(7.5)), text_align="center",
           text_baseline="bottom", text_color="#333333")
    return p


K1 = k_panel((375, 686, 505, 791), (408, 687, 497, 780), 0)
K2 = k_panel((505, 686, 607, 791), (513, 687, 602, 780), 1)
K3 = k_panel((607, 686, 770, 791), (614, 687, 703, 780), 2)
K_bot = strip(375, 791, 770, 880)
txt(K_bot, 426.7, 797.3, "GFP", 10.5)
arr(K_bot, 451.7, 797.7, 634, 797.7)
colK = column(K_top, row(K1, K2, K3), K_bot)

band4 = row(colJ, colK)

# ============================ BAND 5: L M N ============================
L_top = strip(0, 878, 200, 902)
txt(L_top, 3, 892.5, "L", 13)
L_left = strip(0, 902, 32, 1059)
txt(L_left, 26, 968.3, "pERK+ cells (%)", 9.5, align="center", angle=90)
L_idx = [i + 1 for i in range(len(L_values))]
L_fig = pfig((32, 902, 200, 1059), (49, 907, 180, 1036), Range1d(0.347, 3.733), Range1d(0, 20), outline=None)
L_fig.vbar(x=L_idx, top=L_values, width=0.66, fill_color=["#80FEFE", "#FDDCBA", "#9C9CA4"],
           line_color="#222222", line_width=1.3 * K)
add_whisker(L_fig, L_idx, L_low, L_high, 24)
bar_axes(L_fig, [0, 5, 10, 15, 20], [], (0, 20), L_idx, L_labels, ys=7, xs=7, xbold=False, xtick=3)

M_top = strip(200, 878, 540, 925)
txt(M_top, 212, 892.3, "M", 13)
txt(M_top, 275, 905.7, "Stimulation with", 10.5, align="center")
txt(M_top, 275, 920, "CD3-CD28", 10.5, align="center")
txt(M_top, 383.3, 905.7, "Stimulation with", 10.5, align="center")
txt(M_top, 383.3, 920, "PMA", 10.5, align="center")
M_left = strip(200, 925, 226, 1039)
txt(M_left, 217.5, 975.8, "% of gated cells", 10.3, align="center", angle=90)
M_L = stacked_panel((226, 925, 327, 1039), (228, 927, 322, 1031), 24,
                    [(M_CD3_unstim, RD_F, RD_L), (M_CD3_mock, GR_F, GR_L), (M_CD3_WT, CY_F, CY_L), (M_CD3_mut, OR_F, OR_L)])
M_R = stacked_panel((327, 925, 440, 1039), (334, 927, 432, 1031), 24,
                    [(M_PMA_unstim, RD_F, RD_L), (M_PMA_mock, GR_F, GR_L), (M_PMA_WT, CY_F, CY_L), (M_PMA_mut, OR_F, OR_L)])
M_leg = legend_strip((440, 925, 540, 1039), M_legend, ["#FFD15C", "#80F2F2", "#B8E67E", "#FF6B6B"], "fill",
                     10.4, 10.4, 2.5, 10, 4, 1.5)
M_bot = strip(200, 1039, 540, 1059)
txt(M_bot, 236, 1045, "CD69", 11)
arr(M_bot, 270, 1045, 420, 1045)
colM = column(M_top, row(M_left, M_L, M_R, M_leg), M_bot)

N_top = strip(540, 878, 770, 902)
txt(N_top, 552, 892.3, "N", 13)
N_left = strip(540, 902, 574, 1059)
txt(N_left, 559, 960.8, "CD69+ cells", 9.5, align="center", angle=90)
txt(N_left, 569.3, 960.8, "(% of control)", 9.5, align="center", angle=90)
N_idx = [i + 1 for i in range(len(N_values))]
N_fig = pfig((574, 902, 770, 1059), (593, 903, 727, 1026), Range1d(0.255, 3.658), Range1d(0, 104.5), outline=None)
N_fig.vbar(x=N_idx, top=N_values, width=0.65, fill_color=["#3DFEFE", "#5599FF", "#FCCF9F"],
           line_color="#222222", line_width=1.3 * K)
add_whisker(N_fig, N_idx[1:], N_low[1:], N_high[1:], 22)
bar_axes(N_fig, [0, 20, 40, 60, 80, 100], [], (0, 100), N_idx, N_labels, ys=7.5, xs=7.5, xbold=False, xtick=4)
colN = column(N_top, row(N_left, N_fig))
colL = column(L_top, row(L_left, L_fig))

band5 = row(colL, colM, colN)

page = column(band1, band2, band3, band4, band5)
open("out.html", "w").write(file_html(page, INLINE, "Figure"))
